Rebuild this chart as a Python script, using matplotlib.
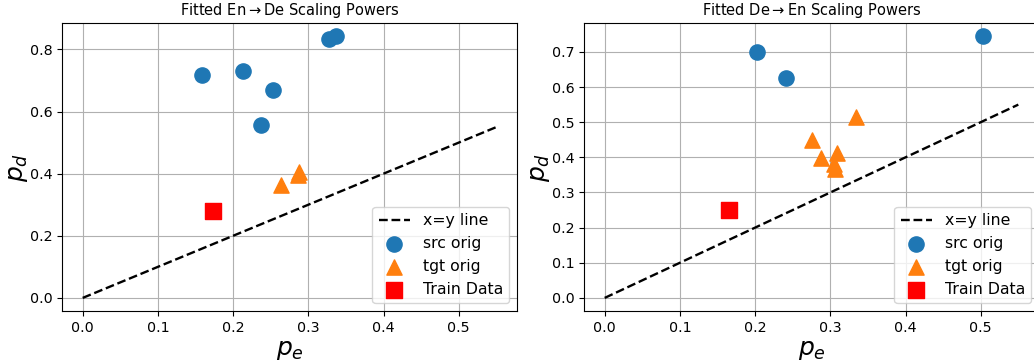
import matplotlib
matplotlib.use("Agg")
import matplotlib.pyplot as plt
import numpy as np

# En -> De fitted scaling powers
ende_src_pe = [0.1587, 0.2137, 0.2537, 0.2377, 0.3275, 0.3368]
ende_src_pd = [0.719, 0.730, 0.671, 0.558, 0.834, 0.843]
ende_tgt_pe = [0.2640, 0.2875, 0.2865]
ende_tgt_pd = [0.3635, 0.4055, 0.396]
ende_train_pe = [0.1737]
ende_train_pd = [0.279]

# De -> En fitted scaling powers
deen_src_pe = [0.2022, 0.2409, 0.5027]
deen_src_pd = [0.699, 0.626, 0.745]
deen_tgt_pe = [0.2756, 0.2876, 0.3085, 0.3055, 0.3060, 0.3342]
deen_tgt_pd = [0.450, 0.398, 0.412, 0.380, 0.368, 0.515]
deen_train_pe = [0.1649]
deen_train_pd = [0.250]

diag = [0.0, 0.55]

panels = [
    ("Fitted En$\\rightarrow$De Scaling Powers",
     ende_src_pe, ende_src_pd, ende_tgt_pe, ende_tgt_pd, ende_train_pe, ende_train_pd),
    ("Fitted De$\\rightarrow$En Scaling Powers",
     deen_src_pe, deen_src_pd, deen_tgt_pe, deen_tgt_pd, deen_train_pe, deen_train_pd),
]

W, H = 1034, 362
fig = plt.figure(figsize=(W / 100, H / 100), dpi=100)
ax_w, ax_h = 455 / W, 288 / H
bottom = (H - 311) / H
lefts = [62 / W, 584 / W]

for left, (title, spe, spd, tpe, tpd, rpe, rpd) in zip(lefts, panels):
    ax = fig.add_axes([left, bottom, ax_w, ax_h])
    ax.plot(diag, diag, "k--", lw=1.7, label="x=y line")
    ax.scatter(spe, spd, s=120, marker="o", color="#1f77b4", label="src orig", zorder=3)
    ax.scatter(tpe, tpd, s=120, marker="^", color="#ff7f0e", label="tgt orig", zorder=3)
    ax.scatter(rpe, rpd, s=120, marker="s", color="red", label="Train Data", zorder=3)
    ax.grid(True, color="#b0b0b0", lw=0.8)
    ax.set_axisbelow(True)
    ax.set_title(title, fontsize=10.5)
    ax.set_xlabel("$p_e$", fontsize=18, labelpad=2)
    ax.set_ylabel("$p_d$", fontsize=18, labelpad=0)
    ax.tick_params(labelsize=10.3)
    ax.legend(loc="lower right", fontsize=11.3, scatterpoints=1)

fig.savefig("out.png", dpi=100)
